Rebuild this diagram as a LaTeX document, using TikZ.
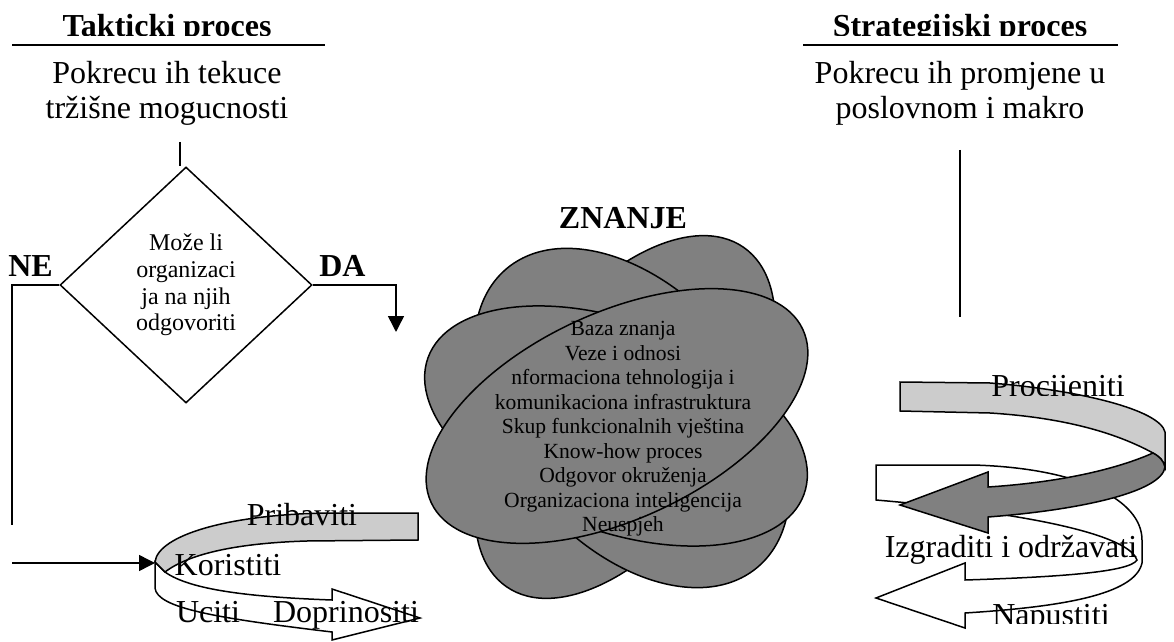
\documentclass[tikz,border=0pt]{standalone}
\usepackage{fontspec}
\setmainfont{Liberation Serif}
\usetikzlibrary{shapes.geometric,arrows.meta}

\begin{document}
\begin{tikzpicture}[x=0.5pt,y=-0.5pt,line width=0.75pt,
	hdr/.style={font=\fontsize{16}{18}\selectfont\bfseries,inner sep=0pt,anchor=base},
	lbl/.style={font=\fontsize{16}{18}\selectfont,inner sep=0pt,anchor=base},
	blob/.style={ellipse,draw,fill=gray,inner sep=0pt},
	arr/.style={-{Triangle[length=8pt,width=8pt]}},
	headline/.style={line width=1.35pt}]
			\useasboundingbox (0,0) rectangle (1174,642);

			% headers, cut at the baseline
			\begin{scope}
				\clip (0,0) rectangle (1174,36);
				\node[hdr] (takt) at (167,36.5) {Takticki proces};
				\node[hdr] (strat) at (960,36.5) {Strategijski proces};
			\end{scope}
			\draw[headline] (12,45) -- (325,45);
			\draw[headline] (803,45) -- (1118,45);

			\node[align=center,inner sep=0pt,font=\fontsize{16}{17.5}\selectfont] (tekuce) at (167,93.4) {Pokrecu ih tekuce\\tržišne mogucnosti};
			\node[align=center,inner sep=0pt,font=\fontsize{16}{17.5}\selectfont] (promjene) at (960,93.3) {Pokrecu ih promjene u\\poslovnom i makro};

			% decision
			\node[draw,diamond,minimum width=126pt,minimum height=118pt,inner sep=0pt,align=center,font=\fontsize{12}{13.3}\selectfont] (pitanje) at (186,285) {Može li\\organizaci\\ja na njih\\odgovoriti};
			\node[hdr] (ne) at (30.5,277) {NE};
			\node[hdr] (da) at (342.5,277) {DA};

			\coordinate (stub) at (180,142);
			\coordinate (nefoot) at (12,525);
			\coordinate (instart) at (12,563);
			\coordinate (loopL) at (155,563);
			\coordinate (dafoot) at (396,332);
			\coordinate (vtop) at (960,150);
			\coordinate (vbot) at (960,317);

			\draw (stub) -- (stub |- pitanje.north);
			\draw (pitanje.west) -| (nefoot);
			\draw[arr] (instart) -- (loopL);
			\draw[arr] (pitanje.east) -| (dafoot);
			\draw (vtop) -- (vbot);

			% knowledge cloud
			\node[hdr] (znanje) at (623,228) {ZNANJE};
			\node[blob,minimum width=207pt,minimum height=112pt,rotate=55] (e1) at (625,417) {};
			\node[blob,minimum width=195pt,minimum height=125pt,rotate=-50] (e2) at (632,418) {};
			\node[blob,minimum width=200pt,minimum height=105pt,rotate=-20] (e3) at (616,426) {};
			\node[blob,minimum width=205pt,minimum height=103pt,rotate=25] (e4) at (617,416) {};
			\node[align=center,inner sep=0pt,font=\fontsize{10.8}{12.25}\selectfont] (lista) at (623,429) {Baza znanja\\Veze i odnosi\\nformaciona tehnologija i\\komunikaciona infrastruktura\\Skup funkcionalnih vještina\\Know-how proces\\Odgovor okruženja\\Organizaciona inteligencija\\Neuspjeh};

			% left loop
			\filldraw[fill=white] (155,562) -- (155,588) .. controls (157,608) and (215,618) .. (332,632) -- (332,640) -- (420,618) -- (332,589) -- (332,600) .. controls (250,597) and (190,590) .. (165,572) -- cycle;
			\filldraw[fill=black!20] (418,513) -- (330,513) .. controls (230,514) and (158,535) .. (155,562) -- (165,572) .. controls (190,553) and (240,543) .. (307,541) -- (418,540) -- cycle;
			\node[lbl] (pribaviti) at (302,525) {Pribaviti};
			\node[lbl] (koristiti) at (228,575) {Koristiti};
			\node[lbl] (uciti) at (208,622) {Uciti};
			\node[lbl] (doprinositi) at (346,622) {Doprinositi};

			% right loop
			\filldraw[fill=white] (876,465) -- (973,465) .. controls (1080,468) and (1142,500) .. (1142,540) -- (1142,563) .. controls (1135,595) and (1060,607) .. (965,613) -- (965,628) -- (876,598) -- (965,563) -- (965,580) .. controls (1060,577) and (1130,572) .. (1137,560) .. controls (1130,538) and (1050,515) .. (876,500) -- cycle;
			\filldraw[fill=black!20] (900,382) -- (990,383) .. controls (1080,390) and (1160,410) .. (1165,432) -- (1165,467) .. controls (1163,460) and (1160,457) .. (1153,453) .. controls (1120,435) and (1070,418) .. (990,413) -- (900,411) -- cycle;
			\filldraw[fill=gray] (1153,453) .. controls (1110,472) and (1050,483) .. (988,487) -- (988,472) -- (900,505) -- (988,533) -- (988,517) .. controls (1080,510) and (1162,492) .. (1165,467) .. controls (1163,460) and (1160,457) .. (1153,453) -- cycle;
			\begin{scope}
				\clip (0,0) rectangle (1174,395);
				\node[lbl] (procijeniti) at (1058,396) {Procijeniti};
			\end{scope}
			\node[lbl] (izgraditi) at (1011,557) {Izgraditi i održavati};
			\begin{scope}
				\clip (0,0) rectangle (1174,623);
				\node[lbl] (napustiti) at (1051,625) {Napustiti};
			\end{scope}
		\end{tikzpicture}
\end{document}
